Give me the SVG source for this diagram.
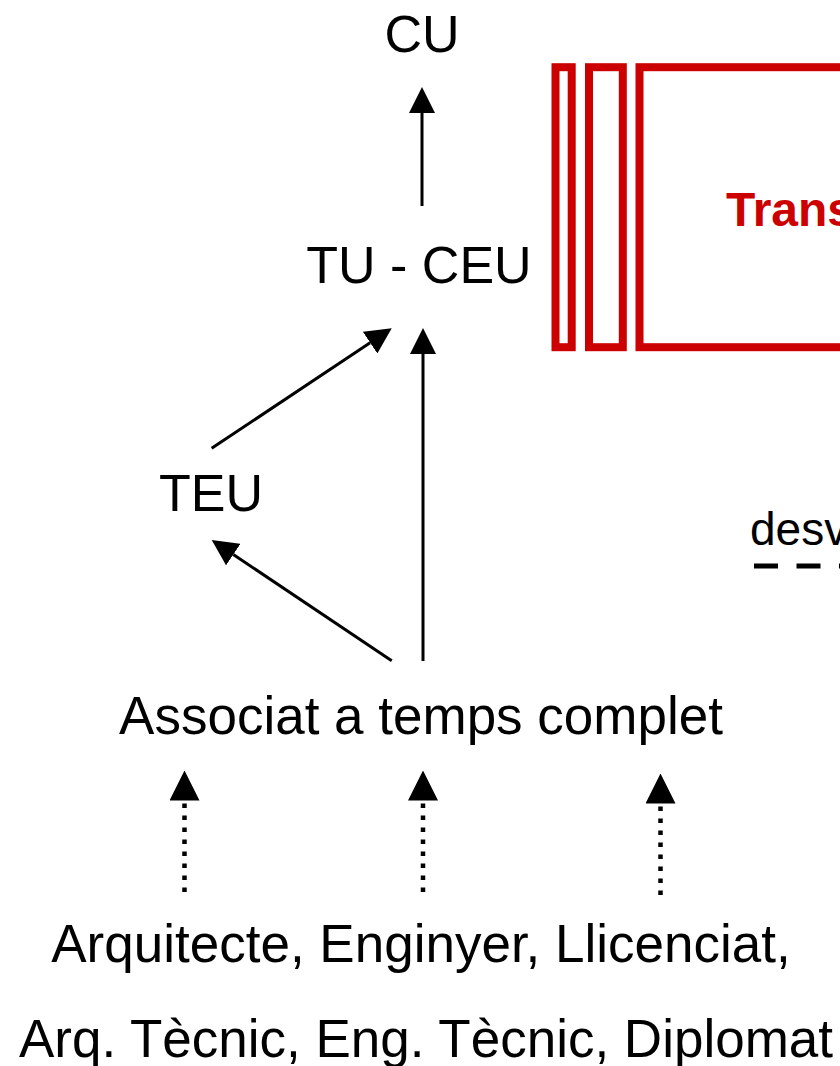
<svg xmlns="http://www.w3.org/2000/svg" width="840" height="1066" viewBox="0 0 840 1066">
  <style>
    .lbl { font-family: "Liberation Sans", Arial, sans-serif; fill: #000; }
    .big { font-size: 52px; }
    .bot { font-size: 53px; }
    .solid { stroke: #000; stroke-width: 3; fill: none; }
    .dot { stroke: #000; stroke-width: 4.5; fill: none; stroke-dasharray: 4.5 7.5; }
    .red { fill: none; stroke: #CC0000; stroke-width: 8; }
    .redtxt { font-family: "Liberation Sans", Arial, sans-serif; font-weight: bold; font-size: 48px; fill: #CC0000; }
  </style>
  <defs>
    <marker id="ah" markerUnits="userSpaceOnUse" markerWidth="26" markerHeight="26" viewBox="0 0 26 26" refX="0" refY="13" orient="auto">
      <path d="M0,0 L26,13 L0,26 z" fill="#000"/>
    </marker>
    <marker id="ahd" markerUnits="userSpaceOnUse" markerWidth="30" markerHeight="30" viewBox="0 0 30 30" refX="0" refY="15" orient="auto">
      <path d="M0,0 L30,15 L0,30 z" fill="#000"/>
    </marker>
  </defs>
  <rect width="840" height="1066" fill="#fff"/>

  <g id="connectors">
    <line class="solid" x1="422" y1="206" x2="422" y2="113" marker-end="url(#ah)"/>
    <line class="solid" x1="423" y1="661" x2="423" y2="354" marker-end="url(#ah)"/>
    <line class="solid" x1="211.7" y1="448.3" x2="370.1" y2="342.7" marker-end="url(#ah)"/>
    <line class="solid" x1="391.7" y1="660.7" x2="233.3" y2="554.5" marker-end="url(#ah)"/>
    <line class="dot" x1="184.5" y1="892" x2="184.5" y2="800.5" marker-end="url(#ahd)"/>
    <line class="dot" x1="423" y1="892" x2="423" y2="800.5" marker-end="url(#ahd)"/>
    <line class="dot" x1="660.5" y1="895" x2="660.5" y2="803.5" marker-end="url(#ahd)"/>
  </g>

  <g id="node-cu">
    <text class="lbl big" x="422" y="52" text-anchor="middle">CU</text>
  </g>
  <g id="node-tu-ceu">
    <text class="lbl big" x="419" y="283" text-anchor="middle">TU - CEU</text>
  </g>
  <g id="node-teu">
    <text class="lbl big" x="211" y="511" text-anchor="middle">TEU</text>
  </g>
  <g id="node-associat">
    <text class="lbl bot" x="421" y="734" text-anchor="middle">Associat a temps complet</text>
  </g>
  <g id="node-titulacions">
    <text class="lbl bot" x="421" y="962" text-anchor="middle">Arquitecte, Enginyer, Llicenciat,</text>
    <text class="lbl bot" x="426" y="1057" text-anchor="middle">Arq. Tècnic, Eng. Tècnic, Diplomat</text>
  </g>

  <g id="node-trans">
    <rect class="red" x="555.5" y="67.2" width="16.2" height="280"/>
    <rect class="red" x="589" y="67.2" width="33.8" height="280"/>
    <rect class="red" x="639.5" y="67.2" width="500" height="280"/>
    <text class="redtxt" x="726" y="226">Trans</text>
  </g>

  <g id="legend-desv">
    <text class="lbl" font-size="46" x="750" y="545">desv</text>
    <line x1="754" y1="566" x2="900" y2="566" stroke="#000" stroke-width="5" stroke-dasharray="24 18.5"/>
  </g>
</svg>
